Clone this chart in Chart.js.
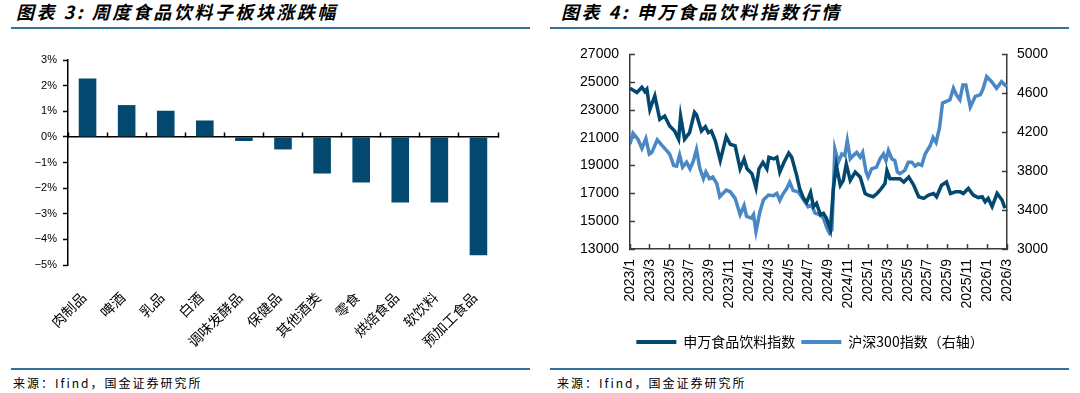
<!DOCTYPE html>
<html lang="zh-CN">
<head>
<meta charset="utf-8">
<title>食品饮料周度图表</title>
<script src="https://cdn.jsdelivr.net/npm/chart.js@4.4.1/dist/chart.umd.min.js"></script>
<style>
  body { margin: 0; width: 1080px; height: 393px; background: #fff; position: relative; overflow: hidden; font-family: "Noto Sans CJK SC", sans-serif; }
  .title { position: absolute; top: 1px; font-size: 18px; line-height: 20px; font-weight: bold; font-style: italic; letter-spacing: 2.5px; color: #000; white-space: nowrap; }
  .rule { position: absolute; height: 2px; background: #33709a; }
  .source { position: absolute; top: 375px; font-size: 12px; line-height: 16px; letter-spacing: 2px; color: #000; white-space: nowrap; }
  .box { position: absolute; top: 30px; height: 335px; }
</style>
</head>
<body>
<div class="title" style="left:16px">图表 3: 周度食品饮料子板块涨跌幅</div>
<div class="title" style="left:561px">图表 4: 申万食品饮料指数行情</div>
<div class="rule" style="left:11px; width:519px; top:27px"></div>
<div class="rule" style="left:550px; width:519px; top:27px"></div>
<div class="box" style="left:0; width:530px"><canvas id="sector-bar-chart"></canvas></div>
<div class="box" style="left:540px; width:540px"><canvas id="index-line-chart"></canvas></div>
<div class="rule" style="left:11px; width:519px; top:368px"></div>
<div class="rule" style="left:550px; width:519px; top:368px"></div>
<div class="source" style="left:13px">来源：Ifind，国金证券研究所</div>
<div class="source" style="left:557px">来源：Ifind，国金证券研究所</div>

<script>
// 图表3：子板块周涨跌幅（%）
const sectors = ["肉制品", "啤酒", "乳品", "白酒", "调味发酵品", "保健品", "其他酒类", "零食", "烘焙食品", "软饮料", "预加工食品"];
const weeklyChange = [2.28, 1.24, 1.02, 0.64, -0.16, -0.49, -1.43, -1.78, -2.56, -2.56, -4.62];

// 图表4：x 为自 2023/1 起的月数
const dateTicks = ["2023/1", "2023/3", "2023/5", "2023/7", "2023/9", "2023/11",
    "2024/1", "2024/3", "2024/5", "2024/7", "2024/9", "2024/11",
    "2025/1", "2025/3", "2025/5", "2025/7", "2025/9", "2025/11",
    "2026/1", "2026/3"];

const foodMonth = [0, 0.7, 1.2, 1.5, 1.7, 2.0, 2.5, 3.0, 3.5, 4.0, 4.5, 4.9, 5.1, 5.5, 6.0, 6.5, 6.7, 7.2, 7.6, 7.9,
    8.2, 8.6, 9.1, 9.7, 10.1, 10.6, 11.1, 11.5, 11.8, 12.3, 12.7, 13.0, 13.4, 13.8, 14.0, 14.5, 14.8, 15.1, 15.5, 16.0,
    16.3, 16.8, 17.1, 17.5, 17.8, 18.2, 18.5, 18.8, 19.2, 19.5, 19.8, 20.2, 20.5, 20.8, 21.0, 21.2, 21.5, 21.8, 22.2, 22.7,
    23.2, 23.7, 24.0, 24.5, 24.9, 25.2, 25.7, 25.9, 26.2, 26.7, 27.2, 27.6, 28.1, 28.6, 29.1, 29.6, 30.1, 30.6, 30.9, 31.4,
    31.9, 32.3, 32.8, 33.3, 33.6, 34.1, 34.6, 35.1, 35.5, 35.8, 36.1, 36.5, 37.0, 37.5, 37.8];
const foodIndex = [24570, 24260, 24640, 24330, 24500, 23030, 24020, 22320, 22560, 21850, 21490, 20900, 22560, 20900, 21370, 22840, 22670, 21490, 21800, 21370,
    21490, 20780, 19360, 21090, 20540, 20420, 18770, 19480, 18770, 18410, 17400, 18770, 19240, 18770, 19600, 19480, 19600, 18530, 19200, 19900,
    19600, 18300, 17350, 16640, 16350, 17060, 16050, 16280, 15460, 15570, 15220, 14390, 17350, 19010, 18300, 17590, 17940, 19120, 17940, 18530,
    18180, 16990, 16880, 16760, 16990, 17230, 17700, 18650, 18060, 18060, 18060, 17820, 18180, 17590, 16760, 16640, 16880, 16990, 16760, 17590,
    17820, 16990, 17110, 17110, 16990, 17350, 16880, 16700, 16760, 16400, 16640, 16050, 17000, 16520, 15930];

const hs300Month = [0, 0.3, 0.8, 1.2, 1.6, 1.95, 2.2, 2.75, 3.2, 3.7, 4.0, 4.4, 4.7, 5.0, 5.3, 5.7, 6.05, 6.4, 6.7, 7.05,
    7.4, 7.65, 8.0, 8.35, 8.75, 9.05, 9.7, 10.1, 10.6, 11.1, 11.5, 11.75, 12.25, 12.45, 12.7, 13.1, 13.45, 13.95, 14.45, 14.8,
    15.1, 15.45, 15.8, 16.1, 16.45, 16.95, 17.45, 17.95, 18.3, 18.65, 19.15, 19.5, 19.85, 20.1, 20.35, 20.65, 21.0, 21.35, 21.65, 21.9,
    22.2, 22.5, 22.85, 23.2, 23.45, 23.8, 24.0, 24.35, 24.85, 25.2, 25.55, 25.8, 26.05, 26.4, 26.7, 26.95, 27.2, 27.7, 28.05, 28.4,
    28.75, 29.05, 29.4, 29.75, 30.25, 30.55, 30.85, 31.2, 31.5, 31.9, 32.25, 32.6, 32.9, 33.25, 33.55, 33.85, 34.3, 34.8, 35.3, 35.55,
    35.95, 36.45, 36.95, 37.45, 37.95];
const hs300Index = [4078, 4189, 4128, 4034, 4135, 3976, 3993, 4122, 4067, 4011, 3976, 3859, 3852, 3966, 3841, 3892, 3824, 3909, 4021, 3824,
    3723, 3791, 3723, 3740, 3672, 3537, 3605, 3588, 3520, 3352, 3446, 3334, 3317, 3352, 3182, 3385, 3504, 3554, 3547, 3571,
    3500, 3570, 3621, 3685, 3600, 3588, 3514, 3435, 3453, 3368, 3352, 3317, 3216, 3165, 3199, 4027, 3892, 3976, 3960, 4112,
    3926, 3960, 3993, 3943, 3993, 3791, 3740, 3824, 3841, 3926, 3976, 3909, 4011, 3926, 3909, 3791, 3774, 3808, 3892, 3892,
    3852, 3875, 3859, 3976, 4061, 4145, 4095, 4247, 4500, 4517, 4534, 4652, 4584, 4534, 4686, 4686, 4460, 4568, 4584, 4635,
    4771, 4720, 4652, 4720, 4670];

const cjkFont = "'Noto Sans CJK SC', sans-serif";
const latinFont = "'Liberation Sans', Arial, sans-serif";
const navy = "#03496f";
const skyBlue = "#4a87c6";

document.addEventListener("DOMContentLoaded", () => {
    // 周度子板块涨跌幅柱状图
    new Chart(document.getElementById("sector-bar-chart"), {
        type: "bar",
        data: {
            labels: sectors,
            datasets: [{
                data: weeklyChange,
                backgroundColor: navy,
                barPercentage: 0.45,
                categoryPercentage: 1
            }]
        },
        options: {
            animation: false,
            responsive: true,
            maintainAspectRatio: false,
            layout: { padding: { top: 30, right: 32, bottom: 0, left: 0 } },
            plugins: { legend: { display: false }, tooltip: { enabled: false } },
            scales: {
                x: {
                    grid: { display: false, drawTicks: false },
                    border: { display: false },
                    ticks: {
                        color: "#000", font: { family: cjkFont, size: 14 },
                        minRotation: 45, maxRotation: 45, autoSkip: false,
                        padding: 24, labelOffset: -4
                    },
                    afterFit: scale => { scale.height = 100; }
                },
                zero: {
                    axis: "x",
                    type: "category",
                    position: { y: 0 },
                    offset: true,
                    grid: { offset: true, drawOnChartArea: false, tickLength: -5, color: "#000", tickWidth: 1.5 },
                    border: { color: "#000", width: 1.5 },
                    ticks: { display: false }
                },
                y: {
                    min: -5,
                    max: 3,
                    ticks: {
                        stepSize: 1, color: "#000", padding: 6,
                        font: { family: latinFont, size: 11 },
                        callback: v => (v < 0 ? "\u2212" : "") + Math.abs(v) + "%"
                    },
                    grid: { drawOnChartArea: false, tickLength: 5, color: "#000", tickWidth: 1.5 },
                    border: { color: "#000", width: 1.5 },
                    afterFit: scale => { scale.width = 68; }
                }
            }
        }
    });

    // 申万食品饮料指数 vs 沪深300
    const axisColor = "#3c3c3c";
    new Chart(document.getElementById("index-line-chart"), {
        type: "line",
        data: {
            datasets: [
                {
                    label: "申万食品饮料指数",
                    data: foodMonth.map((m, i) => ({ x: m, y: foodIndex[i] })),
                    yAxisID: "y",
                    borderColor: navy,
                    backgroundColor: navy,
                    borderWidth: 3.5,
                    pointRadius: 0,
                    tension: 0
                },
                {
                    label: "沪深300指数（右轴）",
                    data: hs300Month.map((m, i) => ({ x: m, y: hs300Index[i] })),
                    yAxisID: "y1",
                    borderColor: skyBlue,
                    backgroundColor: skyBlue,
                    borderWidth: 3.5,
                    pointRadius: 0,
                    tension: 0
                }
            ]
        },
        options: {
            animation: false,
            responsive: true,
            maintainAspectRatio: false,
            layout: { padding: { top: 21, right: 0, bottom: 6, left: 0 } },
            plugins: {
                tooltip: { enabled: false },
                legend: {
                    position: "bottom",
                    labels: {
                        boxWidth: 40, boxHeight: 4, padding: 6, color: "#000",
                        font: { family: cjkFont, size: 14 },
                        generateLabels: chart => Chart.defaults.plugins.legend.labels.generateLabels(chart)
                            .map(item => ({ ...item, lineWidth: 0, fillStyle: item.strokeStyle }))
                    }
                }
            },
            scales: {
                x: {
                    type: "linear",
                    min: 0,
                    max: 38,
                    ticks: {
                        stepSize: 2, autoSkip: false, minRotation: 90, maxRotation: 90, padding: 15,
                        color: "#000", font: { family: latinFont, size: 14 },
                        callback: v => dateTicks[Math.round(v / 2)]
                    },
                    grid: { drawOnChartArea: false, tickLength: -5, color: axisColor, tickWidth: 1.5 },
                    border: { color: axisColor, width: 1.5 },
                    afterFit: scale => { scale.height = 80; }
                },
                y: {
                    position: "left",
                    min: 13000,
                    max: 27000,
                    ticks: {
                        stepSize: 2000, padding: 16, color: "#000",
                        font: { family: latinFont, size: 14 },
                        callback: v => String(v)
                    },
                    grid: { drawOnChartArea: false, tickLength: -5, color: axisColor, tickWidth: 1.5 },
                    border: { color: axisColor, width: 1.5 },
                    afterFit: scale => { scale.width = 90; }
                },
                y1: {
                    position: "right",
                    min: 3000,
                    max: 5000,
                    ticks: {
                        stepSize: 200, padding: 15, color: "#000",
                        font: { family: latinFont, size: 14 },
                        callback: v => String(v)
                    },
                    grid: { drawOnChartArea: false, tickLength: -5, color: axisColor, tickWidth: 1.5 },
                    border: { color: axisColor, width: 1.5 },
                    afterFit: scale => { scale.width = 73; }
                }
            }
        }
    });
});
</script>
</body>
</html>
